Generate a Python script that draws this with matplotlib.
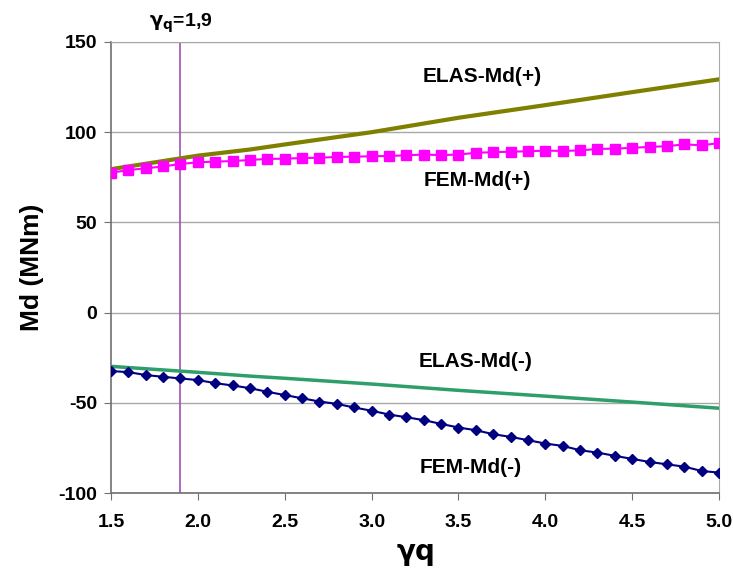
import numpy as np
import matplotlib
matplotlib.use("Agg")
import matplotlib.pyplot as plt

plt.rcParams['font.family'] = ['Liberation Sans', 'DejaVu Sans']
plt.rcParams['axes.unicode_minus'] = False

# load factor gamma_q, sampled every 0.1
gamma_q = np.round(np.arange(1.5, 5.0001, 0.1), 1)

fem_pos = [77.5, 79.0, 80.0, 81.0, 82.4, 83.3, 83.7, 84.0, 84.6, 85.2,
           85.3, 85.7, 85.8, 86.3, 86.4, 86.7, 86.8, 87.2, 87.6, 87.3,
           87.6, 88.6, 88.9, 89.2, 89.4, 89.8, 89.6, 89.9, 90.7, 90.9,
           91.3, 91.9, 92.2, 93.3, 92.7, 94.0]

fem_neg = [-32.4, -33.0, -34.6, -35.6, -36.5, -37.4, -39.1, -40.4, -41.9, -43.9,
           -45.7, -47.5, -49.3, -50.6, -52.6, -54.4, -56.5, -58.0, -59.6, -61.7,
           -63.7, -65.2, -67.4, -68.9, -70.7, -72.6, -73.9, -76.3, -77.6, -79.4,
           -81.1, -82.8, -84.1, -85.4, -87.8, -88.7]

elas_x = [1.5, 2.0, 2.3, 2.5, 3.0, 3.5, 4.0, 4.5, 5.0]
elas_pos = [79.5, 87.0, 90.4, 93.2, 100.0, 108.0, 115.0, 122.2, 129.3]
elas_neg = [-29.8, -33.1, -35.2, -36.4, -39.6, -43.1, -46.3, -49.6, -53.0]

design_gamma = 1.9

fig = plt.figure(figsize=(7.33, 5.8), dpi=100)
ax = fig.add_axes([0.1514, 0.15, 0.8296, 0.7776])

ax.set_xlim(1.5, 5.0)
ax.set_ylim(-100, 150)
ax.set_yticks([-100, -50, 0, 50, 100, 150])
ax.set_xticks(np.arange(1.5, 5.01, 0.5))
ax.set_xticklabels([f"{v:.1f}" for v in np.arange(1.5, 5.01, 0.5)])

ax.yaxis.grid(True, color='#a8a8a8', lw=1.0)
ax.set_axisbelow(True)
for side in ['top', 'right']:
    ax.spines[side].set_color('#a8a8a8')
for side in ['left', 'bottom']:
    ax.spines[side].set_color('#707070')
    ax.spines[side].set_linewidth(1.2)
ax.tick_params(axis='both', direction='out', length=5, color='#707070',
               labelsize=14, pad=5)
for lbl in ax.get_xticklabels() + ax.get_yticklabels():
    lbl.set_fontweight('bold')
ax.tick_params(axis='x', pad=10)

ax.axvline(design_gamma, color='#a050b0', lw=1.2, zorder=2)

ax.plot(elas_x, elas_pos, color='#808000', lw=3, zorder=3)
ax.plot(gamma_q, fem_pos, color='#ff00ff', lw=1.5, marker='s', ms=6.5,
        markeredgecolor='#ff00ff', zorder=4)
ax.plot(elas_x, elas_neg, color='#2e9e6a', lw=2.5, zorder=3)
ax.plot(gamma_q, fem_neg, color='#000080', lw=1.5, marker='D', ms=5.5,
        markeredgecolor='#000080', zorder=4)

txt = dict(fontsize=15, fontweight='bold', ha='center', va='center')
ax.text(3.636, 131, 'ELAS-Md(+)', **txt)
ax.text(3.607, 73, 'FEM-Md(+)', **txt)
ax.text(3.6, -27.2, 'ELAS-Md(-)', **txt)
ax.text(3.57, -86, 'FEM-Md(-)', **txt)

ax.text(design_gamma, 160.5, r'$\mathbf{\gamma}_{\mathbf{q}}$=1,9', fontsize=14,
        fontweight='bold', ha='center', va='center')

ax.set_ylabel('Md (MNm)', fontsize=19, fontweight='bold', labelpad=10)
ax.set_xlabel(r'$\mathbf{\gamma q}$', fontsize=20, fontweight='bold', labelpad=8)

fig.savefig('out.png', dpi=100)
